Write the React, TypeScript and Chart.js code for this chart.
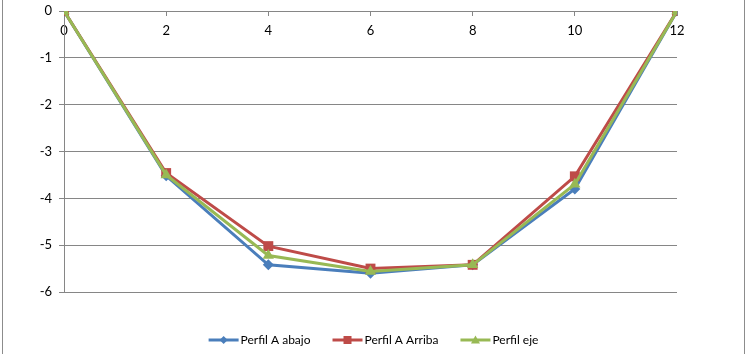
import React, { useEffect, useRef } from "react";
import { Chart, registerables } from "chart.js";

Chart.register(...registerables);

const xValues = [0, 2, 4, 6, 8, 10, 12];
const abajo = [0, -3.52, -5.42, -5.6, -5.42, -3.8, 0];
const arriba = [0, -3.46, -5.02, -5.5, -5.42, -3.53, 0];
const eje = [0, -3.5, -5.22, -5.56, -5.42, -3.7, 0];
const seriesNames = ["Perfil A abajo", "Perfil A Arriba", "Perfil eje"];
const seriesColors = ["#4A7EBB", "#BE4B48", "#98B954"];
const seriesMarkers = ["rectRot", "rect", "triangle"];
const markerRadius = [5.5, 7, 6.5];

const FONT = "Lato";
const GRID = "#868686";

function drawMarker(ctx: CanvasRenderingContext2D, marker: string, cx: number, cy: number) {
  ctx.beginPath();
  if (marker === "rect") {
    ctx.rect(cx - 4, cy - 4, 8, 8);
  } else if (marker === "rectRot") {
    ctx.moveTo(cx, cy - 4);
    ctx.lineTo(cx + 4, cy);
    ctx.lineTo(cx, cy + 4);
    ctx.lineTo(cx - 4, cy);
    ctx.closePath();
  } else {
    ctx.moveTo(cx, cy - 4.5);
    ctx.lineTo(cx + 4.5, cy + 3.5);
    ctx.lineTo(cx - 4.5, cy + 3.5);
    ctx.closePath();
  }
  ctx.fill();
}

const framePlugin = {
  id: "frame",
  beforeDraw(chart: any) {
    const ctx = chart.ctx;
    ctx.save();
    ctx.fillStyle = "#ffffff";
    ctx.fillRect(0, 0, chart.width, chart.height);
    ctx.strokeStyle = "#8c8c8c";
    ctx.lineWidth = 1;
    ctx.beginPath();
    ctx.moveTo(2.5, 0);
    ctx.lineTo(2.5, chart.height);
    ctx.moveTo(744.5, 0);
    ctx.lineTo(744.5, chart.height);
    ctx.stroke();
    ctx.restore();
  },
};

const legendPlugin = {
  id: "customLegend",
  afterDraw(chart: any) {
    const ctx: CanvasRenderingContext2D = chart.ctx;
    ctx.save();
    ctx.font = `12px ${FONT}`;
    const lineW = 30;
    const gapText = 2;
    const gapItem = 22;
    const widths = seriesNames.map((n) => lineW + gapText + ctx.measureText(n).width);
    const total = widths.reduce((a, b) => a + b, 0) + gapItem * (seriesNames.length - 1);
    let x = (chart.width - total) / 2;
    const y = 340;
    seriesNames.forEach((name, i) => {
      ctx.strokeStyle = seriesColors[i];
      ctx.fillStyle = seriesColors[i];
      ctx.lineWidth = 3;
      ctx.beginPath();
      ctx.moveTo(x, y);
      ctx.lineTo(x + lineW, y);
      ctx.stroke();
      drawMarker(ctx, seriesMarkers[i], x + lineW / 2, y);
      ctx.fillStyle = "#000";
      ctx.textBaseline = "middle";
      ctx.textAlign = "left";
      ctx.fillText(name, x + lineW + gapText, y);
      x += widths[i] + gapItem;
    });
    ctx.restore();
  },
};

export default function App() {
  const ref = useRef<HTMLCanvasElement>(null);
  useEffect(() => {
    document.body.style.margin = "0";
    const series = [abajo, arriba, eje];
    const datasets = series.map((vals, i) => ({
      label: seriesNames[i],
      data: xValues.map((x, j) => ({ x, y: vals[j] })),
      borderColor: seriesColors[i],
      backgroundColor: seriesColors[i],
      borderWidth: 3,
      pointStyle: seriesMarkers[i],
      pointRadius: markerRadius[i],
      pointBorderWidth: 0,
      tension: 0,
      order: 2 - i,
    }));
    const chart = new Chart(ref.current!, {
      type: "line",
      data: { datasets } as any,
      plugins: [framePlugin, legendPlugin],
      options: {
        animation: false,
        responsive: false,
        layout: { padding: { left: 0, right: 70, top: 11, bottom: 62 } },
        plugins: {
          tooltip: { enabled: false },
          legend: { display: false },
        },
        scales: {
          x: {
            type: "linear",
            position: { y: 0 } as any,
            min: 0,
            max: 12,
            ticks: {
              stepSize: 2,
              padding: 8,
              color: "#000",
              font: { family: FONT, size: 13 },
              maxRotation: 0,
            },
            grid: {
              display: true,
              drawOnChartArea: false,
              drawTicks: true,
              tickLength: 4,
              color: GRID,
            },
            border: { display: true, color: GRID },
            afterFit: (scale: any) => {
              scale.paddingLeft = 0;
              scale.paddingRight = 0;
              scale.paddingTop = 0;
              scale.paddingBottom = 0;
            },
          },
          y: {
            type: "linear",
            min: -6,
            max: 0,
            ticks: {
              stepSize: 1,
              padding: 7,
              color: "#000",
              font: { family: FONT, size: 13 },
            },
            grid: { color: GRID, tickLength: 5 },
            border: { display: true, color: GRID },
            afterFit: (scale: any) => {
              scale.width = 64;
              scale.paddingTop = 0;
              scale.paddingBottom = 0;
            },
          },
        },
      },
    } as any);
    return () => chart.destroy();
  }, []);
  return <canvas ref={ref} width={747} height={354} style={{ display: "block" }} />;
}
